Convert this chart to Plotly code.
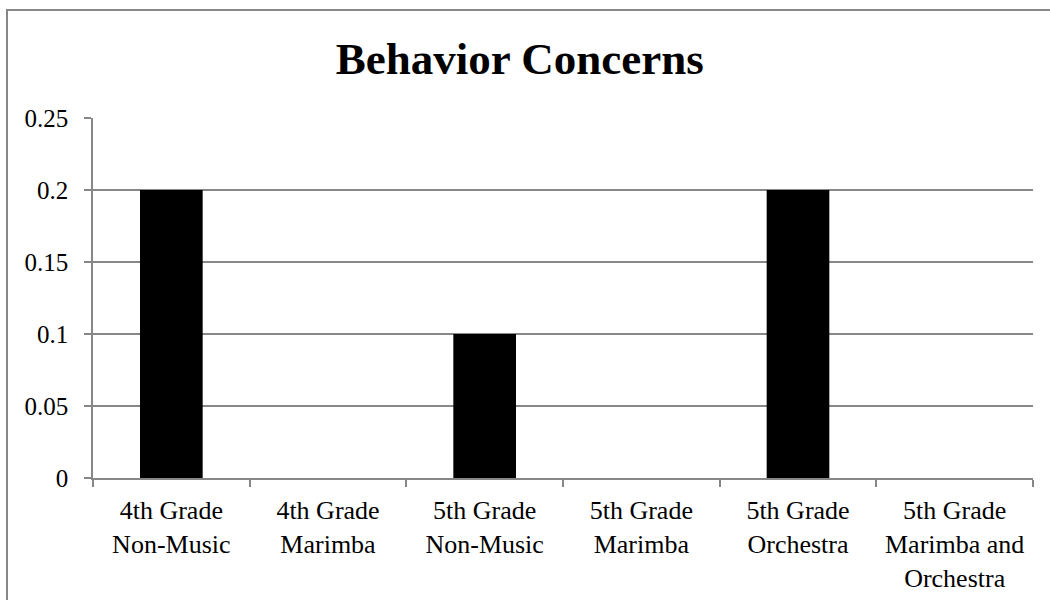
import plotly.graph_objects as go

categories = ["4th Grade<br>Non-Music", "4th Grade<br>Marimba", "5th Grade<br>Non-Music",
              "5th Grade<br>Marimba", "5th Grade<br>Orchestra", "5th Grade<br>Marimba and<br>Orchestra"]
values = [0.2, 0, 0.1, 0, 0.2, 0]
y_ticks = [0, 0.05, 0.1, 0.15, 0.2, 0.25]
y_ticktext = ["0", "0.05", "0.1", "0.15", "0.2", "0.25"]
title_text = "Behavior Concerns"

GRAY = "#878787"
FONT = "Liberation Serif, Times New Roman, serif"

fig = go.Figure(go.Bar(x=categories, y=values, marker=dict(color="#000000", line=dict(width=0))))

L, R, T, B = 93, 17, 118, 122
W, H = 1050, 600
pw, ph = W - L - R, H - T - B

fig.update_layout(
    width=W, height=H,
    margin=dict(l=L, r=R, t=T, b=B, pad=0, autoexpand=False),
    paper_bgcolor="white", plot_bgcolor="white",
    bargap=0.6,
    showlegend=False,
    font=dict(family=FONT, size=24, color="#000000"),
    title=dict(text="<b>" + title_text + "</b>", x=0.495, xanchor="center", y=1 - 58 / H, yanchor="middle",
               xref="container", font=dict(family=FONT, size=45, color="#000000")),
    xaxis=dict(showline=True, linecolor=GRAY, linewidth=1.5, ticks="outside", tickson="boundaries",
               ticklen=7, tickcolor=GRAY, tickwidth=1.5, showgrid=False, tickangle=0,
               ticklabelstandoff=8, automargin=False,
               tickfont=dict(family=FONT, size=26, color="#000000")),
    yaxis=dict(range=[0, 0.25], tickvals=y_ticks, ticktext=y_ticktext, showline=True, linecolor=GRAY,
               linewidth=1.5, ticks="outside", ticklen=7, tickcolor=GRAY, tickwidth=1.5,
               showgrid=True, gridcolor=GRAY, gridwidth=1.5, zeroline=False, ticklabelstandoff=11,
               automargin=False,
               tickfont=dict(family=FONT, size=25, color="#000000")),
    shapes=[dict(type="rect", xref="paper", yref="paper",
                 x0=(7 - L) / pw, x1=(W + 20 - L) / pw,
                 y0=(H - B - (H + 20)) / ph, y1=(H - B - 10) / ph,
                 line=dict(color=GRAY, width=2), fillcolor="rgba(0,0,0,0)", layer="below")],
)

fig.write_html("out.html")
